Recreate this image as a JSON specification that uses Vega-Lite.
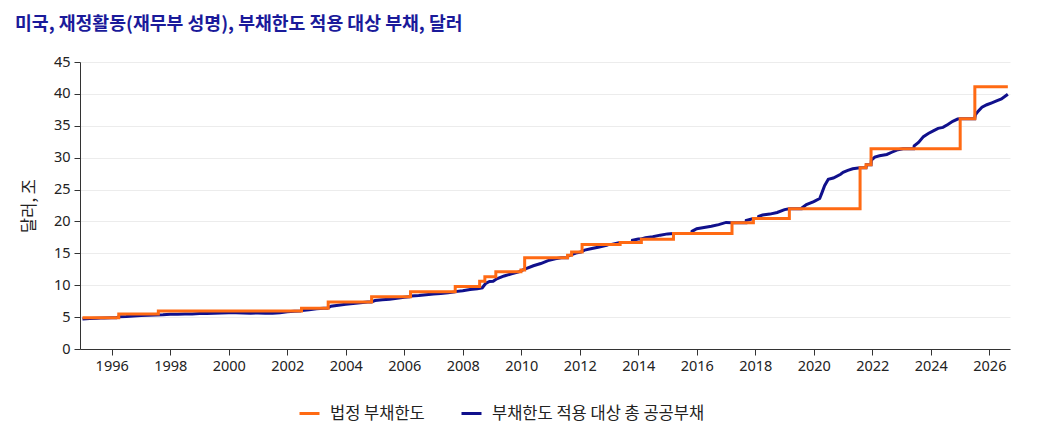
{
  "$schema": "https://vega.github.io/schema/vega-lite/v6.json",
  "description": "US debt limit vs debt subject to limit",
  "autosize": {"type": "none"},
  "width": 930,
  "height": 287,
  "padding": {"left": 80, "top": 62, "right": 27, "bottom": 99},
  "background": "white",
  "title": {
    "text": "미국, 재정활동(재무부 성명), 부채한도 적용 대상 부채, 달러",
    "anchor": "start",
    "frame": "group",
    "font": "Noto Sans CJK KR",
    "fontSize": 18.3,
    "fontWeight": "bold",
    "color": "#1a1a9a",
    "dx": -65,
    "dy": -16
  },
  "config": {
    "view": {"stroke": null},
    "axis": {
      "labelFont": "Noto Sans",
      "labelFontSize": 14.5,
      "labelColor": "#222222",
      "domainColor": "#333333",
      "tickColor": "#333333",
      "titleFont": "Noto Sans CJK KR",
      "titleFontSize": 16.5,
      "titleFontWeight": "normal",
      "titleColor": "#222222"
    }
  },
  "datasets": {
    "limit": [
      {"date": "1995-01-01", "value": 4.9},
      {"date": "1996-03-29", "value": 5.5},
      {"date": "1997-08-05", "value": 5.95},
      {"date": "2002-06-28", "value": 6.4},
      {"date": "2003-05-27", "value": 7.384},
      {"date": "2004-11-19", "value": 8.184},
      {"date": "2006-03-20", "value": 8.965},
      {"date": "2007-09-29", "value": 9.815},
      {"date": "2008-07-30", "value": 10.615},
      {"date": "2008-10-03", "value": 11.315},
      {"date": "2009-02-17", "value": 12.104},
      {"date": "2009-12-28", "value": 12.394},
      {"date": "2010-02-12", "value": 14.294},
      {"date": "2011-08-02", "value": 14.694},
      {"date": "2011-09-21", "value": 15.194},
      {"date": "2012-01-30", "value": 16.394},
      {"date": "2013-05-19", "value": 16.699},
      {"date": "2014-02-08", "value": 17.212},
      {"date": "2015-03-16", "value": 18.113},
      {"date": "2017-03-16", "value": 19.809},
      {"date": "2017-12-08", "value": 20.456},
      {"date": "2019-03-02", "value": 21.988},
      {"date": "2021-08-01", "value": 28.401},
      {"date": "2021-10-14", "value": 28.881},
      {"date": "2021-12-16", "value": 31.381},
      {"date": "2025-01-02", "value": 36.104},
      {"date": "2025-07-04", "value": 41.104},
      {"date": "2026-08-20", "value": 41.104}
    ],
    "debt": [
      {"date": "1995-01-01", "value": 4.7},
      {"date": "1995-04-01", "value": 4.78},
      {"date": "1995-07-01", "value": 4.82},
      {"date": "1995-10-01", "value": 4.88},
      {"date": "1996-01-01", "value": 4.9},
      {"date": "1996-03-01", "value": 4.9},
      {"date": "1996-04-01", "value": 5.05},
      {"date": "1996-07-01", "value": 5.1},
      {"date": "1996-10-01", "value": 5.18},
      {"date": "1997-01-01", "value": 5.27},
      {"date": "1997-04-01", "value": 5.3},
      {"date": "1997-07-01", "value": 5.35},
      {"date": "1997-10-01", "value": 5.38},
      {"date": "1998-01-01", "value": 5.45},
      {"date": "1998-04-01", "value": 5.45},
      {"date": "1998-07-01", "value": 5.48},
      {"date": "1998-10-01", "value": 5.5},
      {"date": "1999-01-01", "value": 5.55},
      {"date": "1999-04-01", "value": 5.58},
      {"date": "1999-07-01", "value": 5.6},
      {"date": "1999-10-01", "value": 5.65},
      {"date": "2000-01-01", "value": 5.67},
      {"date": "2000-04-01", "value": 5.68},
      {"date": "2000-07-01", "value": 5.65},
      {"date": "2000-10-01", "value": 5.62},
      {"date": "2001-01-01", "value": 5.65},
      {"date": "2001-04-01", "value": 5.62},
      {"date": "2001-07-01", "value": 5.6},
      {"date": "2001-10-01", "value": 5.7},
      {"date": "2002-01-01", "value": 5.85},
      {"date": "2002-04-01", "value": 5.93},
      {"date": "2002-06-15", "value": 5.95},
      {"date": "2002-07-01", "value": 6.05},
      {"date": "2002-10-01", "value": 6.15},
      {"date": "2003-01-01", "value": 6.3},
      {"date": "2003-04-01", "value": 6.38},
      {"date": "2003-05-15", "value": 6.4},
      {"date": "2003-07-01", "value": 6.7},
      {"date": "2003-10-01", "value": 6.85},
      {"date": "2004-01-01", "value": 7.0},
      {"date": "2004-04-01", "value": 7.13},
      {"date": "2004-07-01", "value": 7.25},
      {"date": "2004-10-01", "value": 7.38},
      {"date": "2004-11-15", "value": 7.38},
      {"date": "2005-01-01", "value": 7.6},
      {"date": "2005-04-01", "value": 7.73},
      {"date": "2005-07-01", "value": 7.8},
      {"date": "2005-10-01", "value": 7.95},
      {"date": "2006-01-01", "value": 8.1},
      {"date": "2006-03-10", "value": 8.18},
      {"date": "2006-04-01", "value": 8.3},
      {"date": "2006-07-01", "value": 8.38},
      {"date": "2006-10-01", "value": 8.5},
      {"date": "2007-01-01", "value": 8.62},
      {"date": "2007-04-01", "value": 8.7},
      {"date": "2007-07-01", "value": 8.8},
      {"date": "2007-09-25", "value": 8.95},
      {"date": "2007-10-01", "value": 9.0},
      {"date": "2008-01-01", "value": 9.15},
      {"date": "2008-04-01", "value": 9.33},
      {"date": "2008-07-01", "value": 9.45},
      {"date": "2008-09-01", "value": 9.6},
      {"date": "2008-10-15", "value": 10.3},
      {"date": "2008-12-01", "value": 10.6},
      {"date": "2009-01-15", "value": 10.62},
      {"date": "2009-03-01", "value": 11.0},
      {"date": "2009-06-01", "value": 11.45},
      {"date": "2009-09-01", "value": 11.8},
      {"date": "2009-12-01", "value": 12.1},
      {"date": "2010-01-15", "value": 12.35},
      {"date": "2010-03-01", "value": 12.6},
      {"date": "2010-06-01", "value": 13.05},
      {"date": "2010-09-01", "value": 13.4},
      {"date": "2010-12-01", "value": 13.85},
      {"date": "2011-03-01", "value": 14.15},
      {"date": "2011-05-16", "value": 14.29},
      {"date": "2011-08-01", "value": 14.29},
      {"date": "2011-08-05", "value": 14.55},
      {"date": "2011-10-01", "value": 14.85},
      {"date": "2011-12-01", "value": 15.1},
      {"date": "2012-01-15", "value": 15.2},
      {"date": "2012-03-01", "value": 15.5},
      {"date": "2012-06-01", "value": 15.75},
      {"date": "2012-09-01", "value": 16.0},
      {"date": "2012-12-01", "value": 16.25},
      {"date": "2012-12-31", "value": 16.39},
      {"date": "2013-02-01", "value": 16.4},
      {"date": "2013-05-19", "value": 16.7},
      {"date": "2013-10-16", "value": 16.7},
      {"date": "2013-10-20", "value": 17.05},
      {"date": "2014-01-01", "value": 17.25},
      {"date": "2014-02-08", "value": 17.25},
      {"date": "2014-04-01", "value": 17.45},
      {"date": "2014-07-01", "value": 17.6},
      {"date": "2014-10-01", "value": 17.85},
      {"date": "2015-01-01", "value": 18.05},
      {"date": "2015-03-15", "value": 18.11},
      {"date": "2015-10-30", "value": 18.11},
      {"date": "2015-11-03", "value": 18.45},
      {"date": "2016-01-01", "value": 18.85},
      {"date": "2016-04-01", "value": 19.05},
      {"date": "2016-07-01", "value": 19.25},
      {"date": "2016-10-01", "value": 19.5},
      {"date": "2017-01-01", "value": 19.85},
      {"date": "2017-03-16", "value": 19.81},
      {"date": "2017-09-07", "value": 19.81},
      {"date": "2017-09-10", "value": 20.15},
      {"date": "2017-12-08", "value": 20.45},
      {"date": "2018-02-08", "value": 20.45},
      {"date": "2018-02-12", "value": 20.8},
      {"date": "2018-04-01", "value": 21.0},
      {"date": "2018-07-01", "value": 21.15},
      {"date": "2018-10-01", "value": 21.4},
      {"date": "2019-01-01", "value": 21.85},
      {"date": "2019-03-01", "value": 21.99},
      {"date": "2019-08-01", "value": 21.99},
      {"date": "2019-08-05", "value": 22.1},
      {"date": "2019-10-01", "value": 22.65},
      {"date": "2020-01-01", "value": 23.1},
      {"date": "2020-03-15", "value": 23.6},
      {"date": "2020-04-15", "value": 24.6},
      {"date": "2020-05-15", "value": 25.6},
      {"date": "2020-06-30", "value": 26.6},
      {"date": "2020-09-01", "value": 26.8},
      {"date": "2020-12-01", "value": 27.4},
      {"date": "2021-01-01", "value": 27.7},
      {"date": "2021-03-01", "value": 28.0},
      {"date": "2021-05-01", "value": 28.25},
      {"date": "2021-08-01", "value": 28.4},
      {"date": "2021-10-14", "value": 28.4},
      {"date": "2021-10-20", "value": 28.88},
      {"date": "2021-12-16", "value": 28.9},
      {"date": "2021-12-20", "value": 29.6},
      {"date": "2022-02-01", "value": 30.1},
      {"date": "2022-04-01", "value": 30.3},
      {"date": "2022-07-01", "value": 30.5},
      {"date": "2022-09-01", "value": 30.85},
      {"date": "2022-11-01", "value": 31.2},
      {"date": "2023-01-19", "value": 31.38},
      {"date": "2023-06-02", "value": 31.38},
      {"date": "2023-06-08", "value": 31.85},
      {"date": "2023-08-01", "value": 32.4},
      {"date": "2023-10-01", "value": 33.3},
      {"date": "2023-12-01", "value": 33.8},
      {"date": "2024-02-01", "value": 34.2},
      {"date": "2024-04-01", "value": 34.6},
      {"date": "2024-06-01", "value": 34.75},
      {"date": "2024-08-01", "value": 35.2},
      {"date": "2024-10-01", "value": 35.7},
      {"date": "2024-12-01", "value": 36.05},
      {"date": "2025-01-02", "value": 36.1},
      {"date": "2025-07-03", "value": 36.1},
      {"date": "2025-07-10", "value": 36.7},
      {"date": "2025-08-15", "value": 37.3},
      {"date": "2025-10-01", "value": 37.9},
      {"date": "2025-12-01", "value": 38.3},
      {"date": "2026-02-01", "value": 38.6},
      {"date": "2026-04-01", "value": 38.9},
      {"date": "2026-06-01", "value": 39.2},
      {"date": "2026-08-20", "value": 39.95}
    ]
  },
  "encoding": {
    "x": {
      "field": "date",
      "type": "temporal",
      "scale": {"domain": ["1994-12-01", "2026-09-16"]},
      "axis": {
        "title": null,
        "format": "%Y",
        "tickCount": {"interval": "year", "step": 2},
        "grid": false,
        "tickSize": 6,
        "labelPadding": 4
      }
    },
    "y": {
      "field": "value",
      "type": "quantitative",
      "scale": {"domain": [0, 45], "nice": false},
      "axis": {
        "title": "달러, 조",
        "values": [0, 5, 10, 15, 20, 25, 30, 35, 40, 45],
        "gridColor": "#ececec",
        "tickSize": 6,
        "labelPadding": 4,
        "titlePadding": 16
      }
    },
    "color": {
      "scale": {
        "domain": ["법정 부채한도", "부채한도 적용 대상 총 공공부채"],
        "range": ["#ff6a13", "#10108c"]
      },
      "legend": {
        "title": null,
        "orient": "none",
        "direction": "horizontal",
        "legendX": 218,
        "legendY": 340,
        "symbolType": "stroke",
        "symbolStrokeWidth": 3,
        "symbolSize": 400,
        "labelFont": "Noto Sans CJK KR",
        "labelFontSize": 16.5,
        "labelColor": "#222222",
        "labelLimit": 400,
        "labelOffset": 9,
        "columnPadding": 30
      }
    }
  },
  "layer": [
    {
      "data": {"name": "debt"},
      "mark": {"type": "line", "strokeWidth": 3},
      "encoding": {"color": {"datum": "부채한도 적용 대상 총 공공부채"}}
    },
    {
      "data": {"name": "limit"},
      "mark": {"type": "line", "strokeWidth": 3, "interpolate": "step-after"},
      "encoding": {"color": {"datum": "법정 부채한도"}}
    }
  ]
}
